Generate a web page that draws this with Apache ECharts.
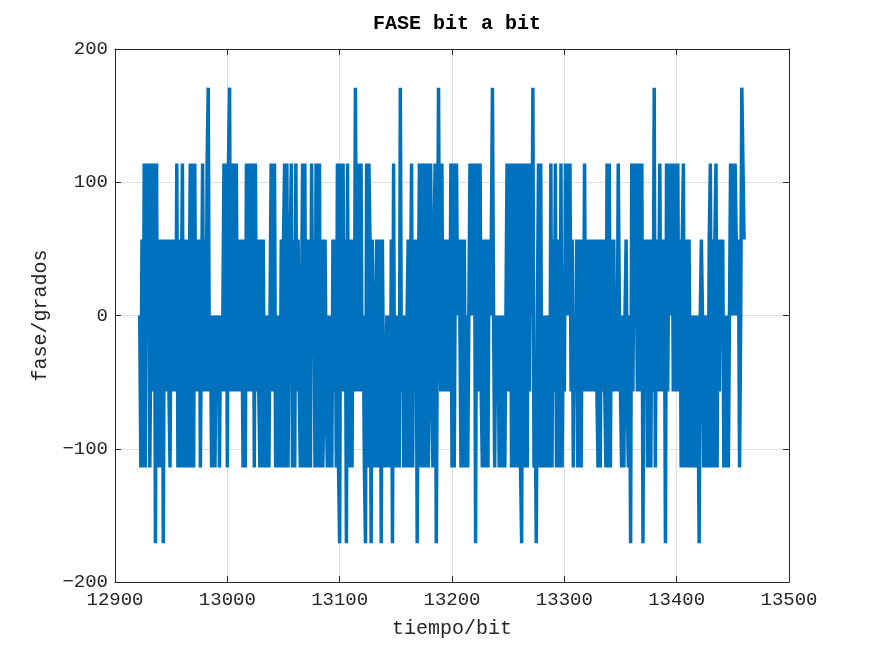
<!DOCTYPE html>
<html><head><meta charset="utf-8">
<script src="https://cdn.jsdelivr.net/npm/echarts@6/dist/echarts.min.js"></script>
<style>html,body{margin:0;padding:0;background:#fff}#c{width:872px;height:654px}</style>
</head><body><div id="c"></div>
<script>
// first bit index of the record
const bitStart = 12922;
// phase per bit (degrees)
const phase = [
0,-114,57,-114,114,-114,114,0,114,-114,
0,114,-57,114,-171,114,-114,57,-114,-57,
57,-171,57,-57,0,57,-57,-114,57,-57,
0,57,-57,114,-114,57,-114,0,114,-114,
57,-114,57,-114,0,114,-114,114,-114,114,
-57,57,-57,57,-114,0,114,-57,57,-57,
114,171,-57,0,-114,0,-57,-114,0,-57,
0,-114,0,-57,0,114,-57,114,-114,114,
171,-57,114,-57,114,-57,114,-57,57,-57,
57,0,-114,57,-114,114,-57,57,114,-57,
0,114,-114,114,-57,57,-57,-114,57,-114,
57,-114,0,-114,0,-114,0,114,-57,57,
114,-114,0,-114,0,-114,57,-114,57,114,
-114,114,-114,0,57,114,-114,57,-114,114,
-57,57,-57,-114,0,114,-114,114,-114,57,
-114,57,-114,114,0,57,-114,114,-114,57,
114,-114,57,-114,-57,57,-57,-114,0,-114,
0,-114,57,-57,57,-114,114,-114,-171,114,
-57,114,-57,57,-171,114,-114,57,-57,-114,
57,-57,171,0,-57,114,-57,114,-57,0,
-114,-171,114,-114,114,57,-171,57,-57,-114,
0,57,-114,-57,57,-171,57,-57,-114,-57,
0,-114,0,-114,57,-171,114,-114,0,-114,
0,-114,171,-57,0,-114,0,-114,0,57,
-114,0,114,-114,57,-57,57,-171,0,114,
-114,114,-114,114,-57,-114,114,-114,57,114,
-57,-114,57,114,-171,0,171,0,-57,114,
-57,57,-57,57,-57,57,-57,114,-114,114,
-114,57,114,0,57,0,-114,57,-114,57,
-114,0,-114,0,114,0,114,0,114,-171,
114,0,-57,114,-57,-114,57,-57,-114,57,
-114,57,0,57,171,0,-114,0,-57,0,
-114,0,-57,-114,0,-114,0,114,-57,57,
114,-114,114,-114,0,114,-114,-57,114,-114,
-171,114,-57,-114,114,-114,114,-57,114,0,
171,-114,-57,-171,0,114,-114,114,-114,0,
-57,-114,0,-114,0,-114,114,-114,57,-57,
114,-114,57,0,-114,114,-114,0,-57,114,
0,114,0,114,-57,57,-114,0,-57,57,
-114,57,-57,-114,57,-57,114,-57,57,0,
-57,57,-57,0,57,-57,57,-57,-114,57,
-114,57,-57,57,-57,-114,114,-114,114,-114,
57,-57,57,-57,0,-57,114,0,-57,-114,
0,-114,0,57,-57,-114,0,-171,114,-57,
57,114,57,-57,114,-57,57,114,-171,57,
-57,57,-114,57,-57,-114,57,-57,171,-114,
57,-57,0,114,-57,57,-57,57,-171,114,
-57,57,114,0,114,-57,114,-57,57,114,
-57,57,-114,57,114,-114,57,-57,-114,57,
-57,-114,0,-114,0,-114,0,-57,-171,0,
57,0,-114,0,-114,0,-114,57,114,-114,
57,-114,57,114,-114,57,-57,57,0,57,
-114,0,-114,0,-114,0,114,0,114,0,
114,57,0,57,-114,0,171,171,57
];
// axis ticks
const xTicks = [12900, 13000, 13100, 13200, 13300, 13400, 13500];
const yTicks = [-200, -100, 0, 100, 200];

const FONT = 'Liberation Mono';
const AX = '#262626';
const xMin = xTicks[0], xMax = xTicks[xTicks.length - 1], xStep = xTicks[1] - xTicks[0];
const yMin = yTicks[0], yMax = yTicks[yTicks.length - 1], yStep = yTicks[1] - yTicks[0];
const fmtMinus = v => String(v).replace('-', '\u2212');
const fmtPlain = v => String(v);

const chart = echarts.init(document.getElementById('c'), null, {renderer: 'canvas'});
const baseAxis = {
  type: 'value',
  axisLine: {show: true, onZero: false, lineStyle: {color: AX, width: 1}},
  axisTick: {show: true, inside: true, length: 6, lineStyle: {color: AX}},
};
chart.setOption({
  animation: false,
  backgroundColor: '#ffffff',
  title: {
    text: 'FASE bit a bit', left: 452, top: 9, textAlign: 'center',
    textStyle: {fontFamily: FONT, fontWeight: 'bold', fontSize: 20, color: '#000'}
  },
  grid: {left: 115, right: 83, top: 49, bottom: 72, containLabel: false},
  xAxis: [
    Object.assign({}, baseAxis, {
      position: 'bottom', min: xMin, max: xMax, interval: xStep,
      axisLabel: {color: AX, fontFamily: FONT, fontSize: 19, margin: 8, formatter: fmtPlain},
      splitLine: {show: true, lineStyle: {color: '#dfdfdf', width: 1}},
      name: 'tiempo/bit', nameLocation: 'middle', nameGap: 37,
      nameTextStyle: {color: AX, fontFamily: FONT, fontSize: 20}
    }),
    Object.assign({}, baseAxis, {
      position: 'top', min: xMin, max: xMax, interval: xStep,
      axisLabel: {show: false}, splitLine: {show: false}
    })
  ],
  yAxis: [
    Object.assign({}, baseAxis, {
      position: 'left', min: yMin, max: yMax, interval: yStep,
      axisLabel: {color: AX, fontFamily: FONT, fontSize: 19, margin: 7, formatter: fmtMinus},
      splitLine: {show: true, lineStyle: {color: '#dfdfdf', width: 1}},
      name: 'fase/grados', nameLocation: 'middle', nameGap: 64, nameRotate: 90,
      nameTextStyle: {color: AX, fontFamily: FONT, fontSize: 20}
    }),
    Object.assign({}, baseAxis, {
      position: 'right', min: yMin, max: yMax, interval: yStep,
      axisLabel: {show: false}, splitLine: {show: false}
    })
  ],
  series: [{
    type: 'line',
    xAxisIndex: 0, yAxisIndex: 0,
    data: phase.map((v, i) => [bitStart + i, v]),
    showSymbol: false, symbol: 'none',
    lineStyle: {color: '#0072BD', width: 3.5, join: 'miter'},
    clip: true
  }]
});
</script></body></html>
